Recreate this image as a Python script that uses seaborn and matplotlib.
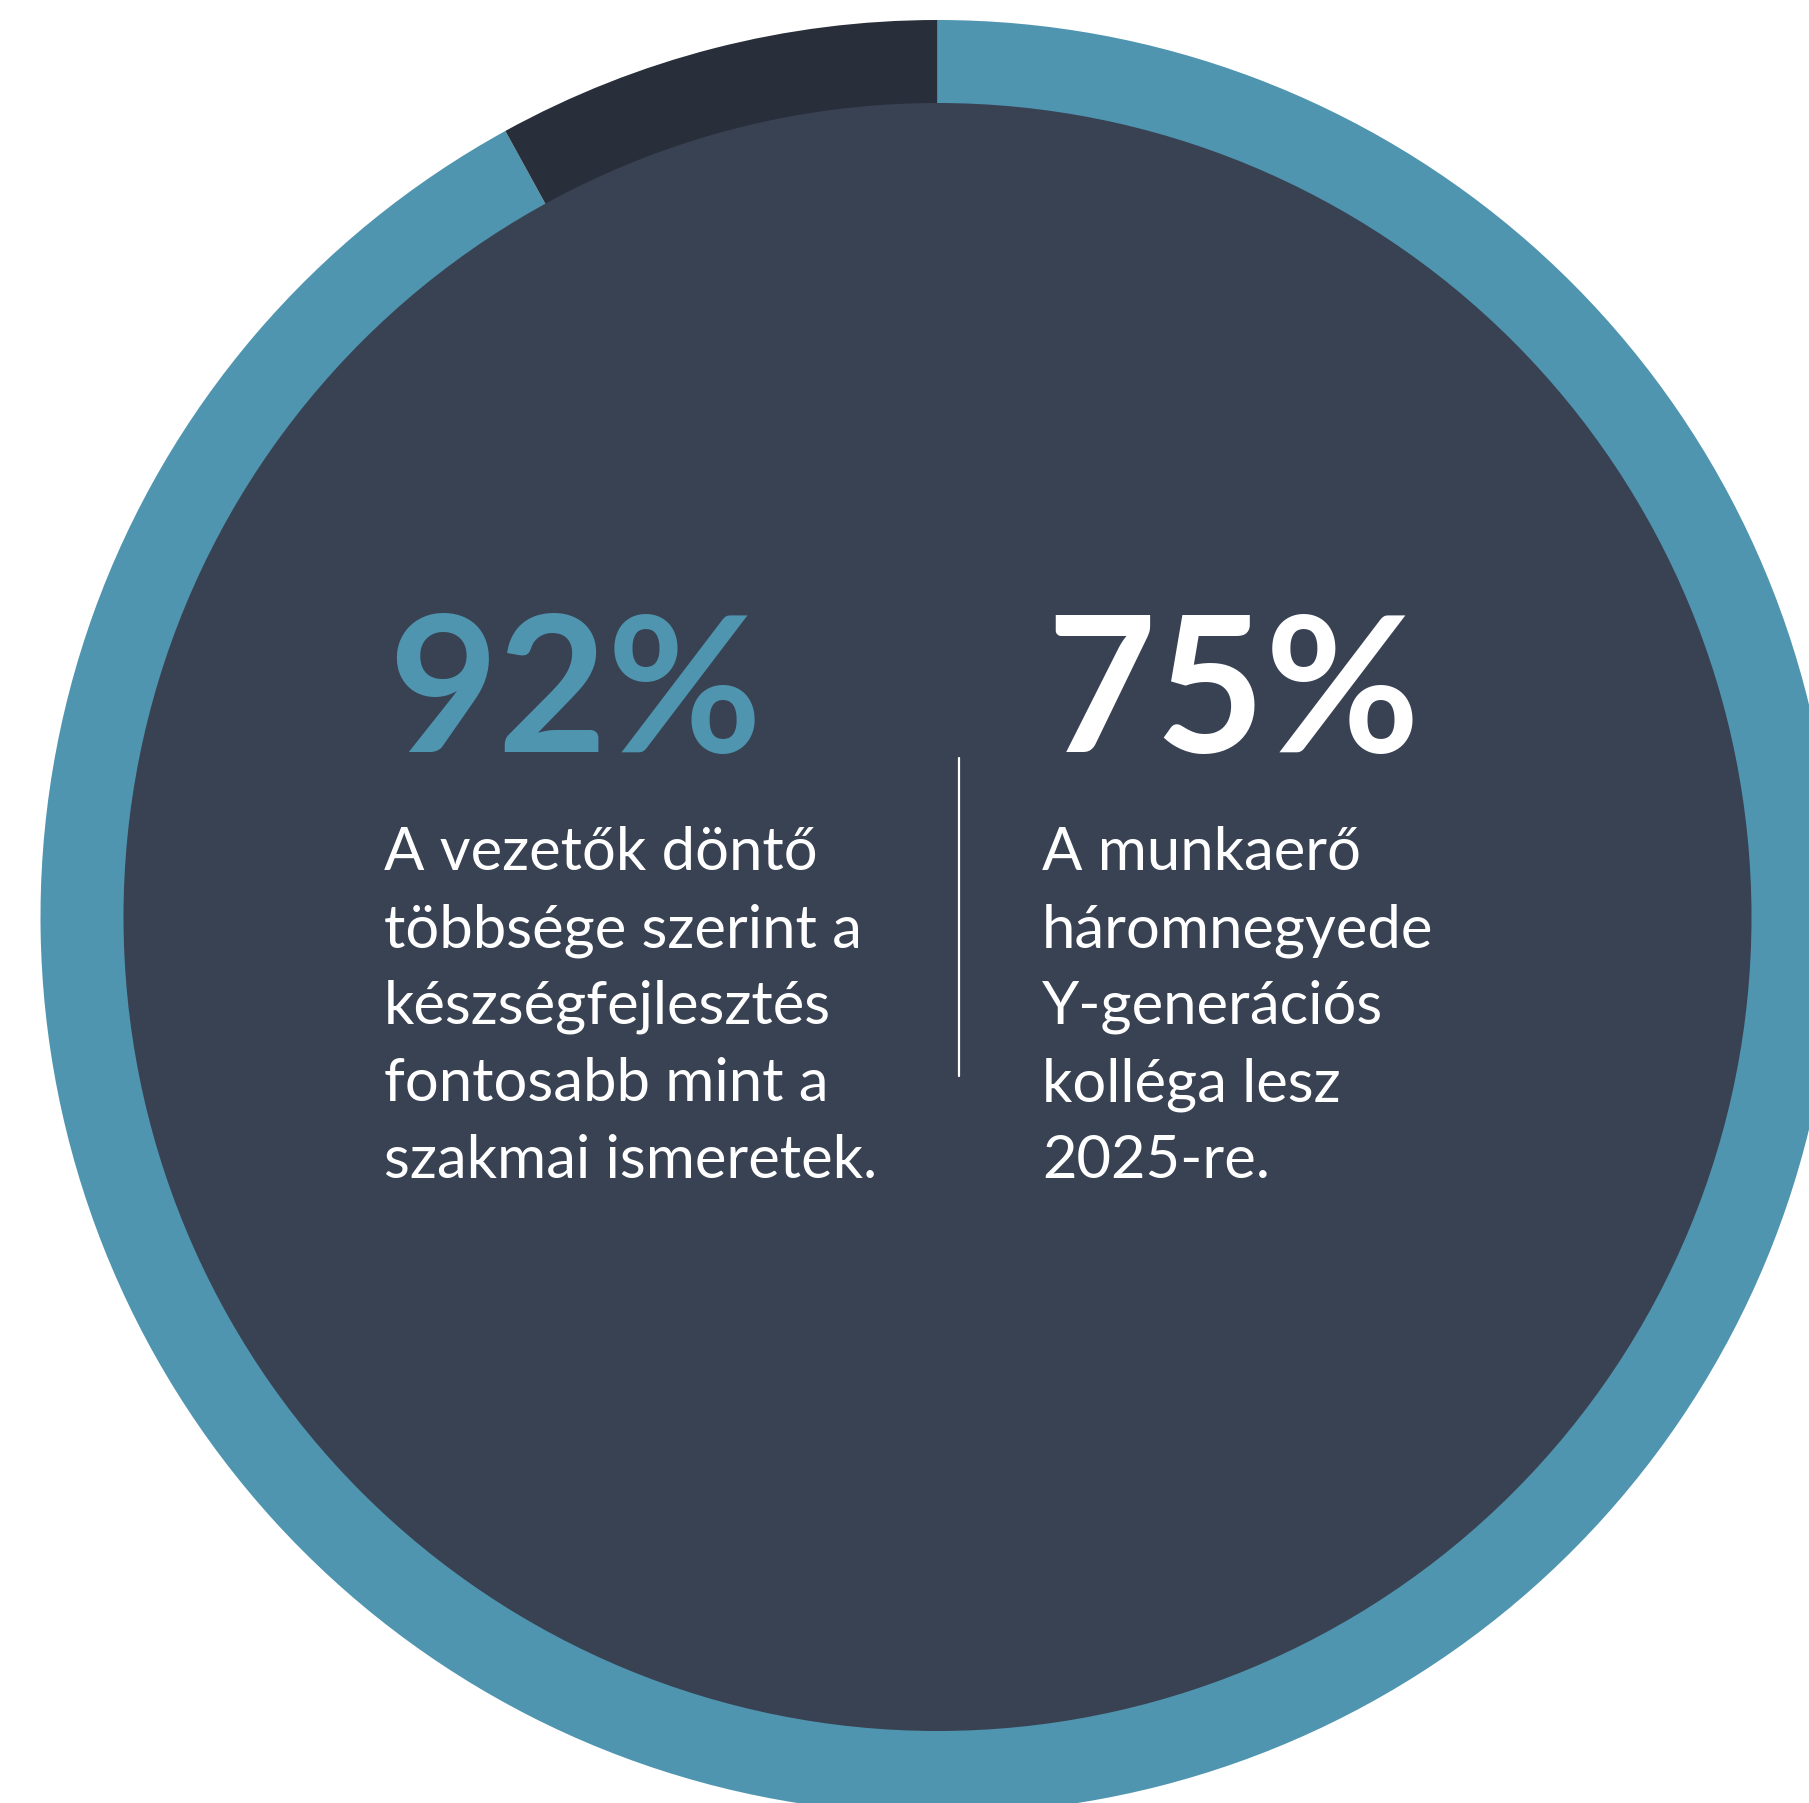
import matplotlib
matplotlib.use("Agg")
import matplotlib.pyplot as plt
import seaborn as sns
from matplotlib.patches import Circle

sns.set_theme(style="white")
plt.rcParams['font.family'] = ['Lato', 'DejaVu Sans']

# data
labels = ["Igen", "Nem"]
shares = [92, 8]
ring_colors = ["#4F95B0", "#282E3A"]
stat_left = "92%"
stat_right = "75%"
text_left = ["A vezetők döntő", "többsége szerint a", "készségfejlesztés",
             "fontosabb mint a", "szakmai ismeretek."]
text_right = ["A munkaerő", "háromnegyede", "Y-generációs",
              "kolléga lesz", "2025-re."]

W, H = 1809, 1803
fig = plt.figure(figsize=(W / 100, H / 100), dpi=100)
ax = fig.add_axes([0, 0, 1, 1])
cx, cy = 937.5, H - 917
R_out, R_in = 897, 814

ax.pie(shares, colors=ring_colors, startangle=90, counterclock=False,
       radius=R_out, center=(cx, cy), frame=True,
       wedgeprops=dict(width=R_out - R_in + 5, linewidth=0))
ax.add_patch(Circle((cx, cy), R_in, color="#394253", lw=0, zorder=3))
ax.set_xlim(0, W)
ax.set_ylim(0, H)
ax.set_aspect("equal")
ax.axis("off")

# big stats
ax.text(388, H - 752, stat_left, color="#4F95B0", fontsize=136, fontweight="bold",
        ha="left", va="baseline", zorder=5)
ax.text(1046, H - 752, stat_right, color="white", fontsize=136, fontweight="bold",
        ha="left", va="baseline", zorder=5)

base0 = 870
step = 77
for i, line in enumerate(text_left):
    ax.text(384, H - (base0 + i * step), line, color="white", fontsize=43,
            ha="left", va="baseline", zorder=5)
for i, line in enumerate(text_right):
    ax.text(1042, H - (base0 + i * step), line, color="white", fontsize=43,
            ha="left", va="baseline", zorder=5)

ax.plot([959, 959], [H - 758, H - 1076], color="white", lw=1.6, zorder=5)

fig.savefig("out.png", dpi=100, facecolor="white")
